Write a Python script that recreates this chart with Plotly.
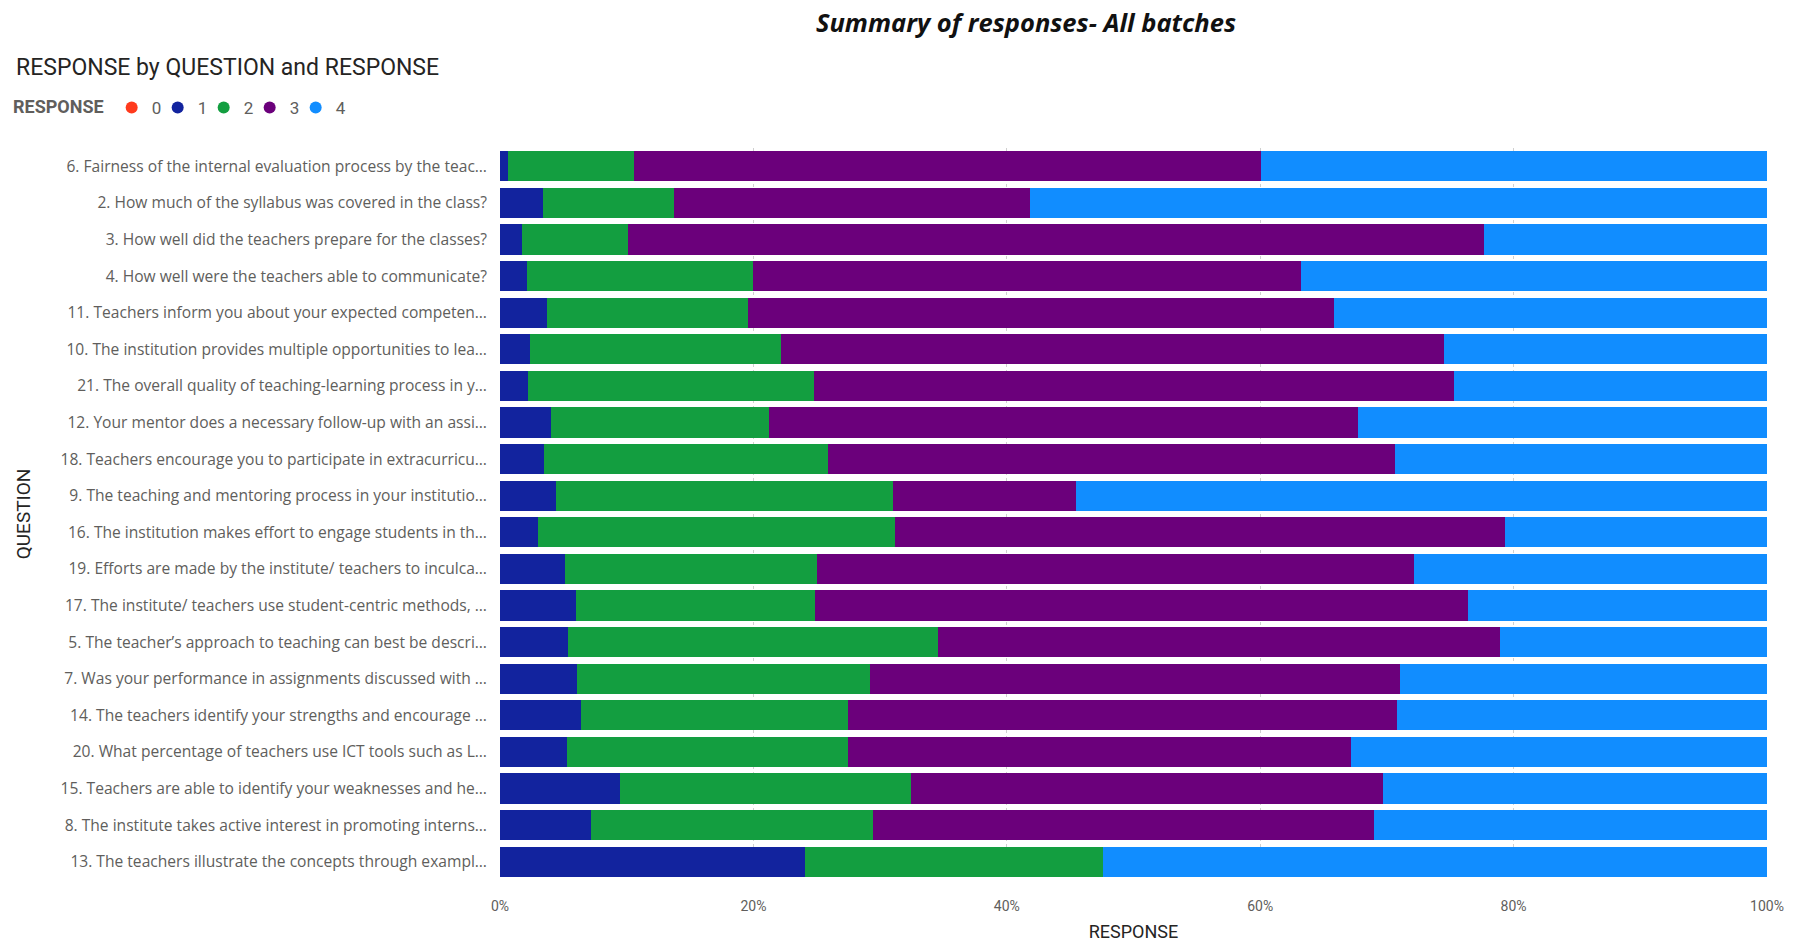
import plotly.graph_objects as go

questions = [
    "6. Fairness of the internal evaluation process by the teac…",
    "2. How much of the syllabus was covered in the class?",
    "3. How well did the teachers prepare for the classes?",
    "4. How well were the teachers able to communicate?",
    "11. Teachers inform you about your expected competen…",
    "10. The institution provides multiple opportunities to lea…",
    "21. The overall quality of teaching-learning process in y…",
    "12. Your mentor does a necessary follow-up with an assi…",
    "18. Teachers encourage you to participate in extracurricu…",
    "9. The teaching and mentoring process in your institutio…",
    "16. The institution makes effort to engage students in th…",
    "19. Efforts are made by the institute/ teachers to inculca…",
    "17. The institute/ teachers use student-centric methods, …",
    "5. The teacher’s approach to teaching can best be descri…",
    "7. Was your performance in assignments discussed with …",
    "14. The teachers identify your strengths and encourage …",
    "20. What percentage of teachers use ICT tools such as L…",
    "15. Teachers are able to identify your weaknesses and he…",
    "8. The institute takes active interest in promoting interns…",
    "13. The teachers illustrate the concepts through exampl…",
]

resp_0 = [0, 0, 0, 0, 0, 0, 0, 0, 0, 0, 0, 0, 0, 0, 0, 0, 0, 0, 0, 0]
resp_1 = [0.6, 3.4, 1.7, 2.1, 3.7, 2.4, 2.2, 4.0, 3.5, 4.4, 3.0, 5.1, 6.0, 5.4, 6.1, 6.4, 5.3, 9.5, 7.2, 24.1]
resp_2 = [10.0, 10.3, 8.4, 17.9, 15.9, 19.8, 22.6, 17.2, 22.4, 26.6, 28.2, 19.9, 18.9, 29.2, 23.1, 21.1, 22.2, 22.9, 22.2, 23.5]
resp_3 = [49.5, 28.1, 67.6, 43.2, 46.2, 52.3, 50.5, 46.5, 44.7, 14.5, 48.1, 47.1, 51.5, 44.3, 41.8, 43.3, 39.7, 37.3, 39.6, 0]
resp_4 = [39.9, 58.2, 22.3, 36.8, 34.2, 25.5, 24.7, 32.3, 29.4, 54.5, 20.7, 27.9, 23.6, 21.1, 29.0, 29.2, 32.8, 30.3, 31.0, 52.4]

series_names = ["0", "1", "2", "3", "4"]
series_vals = [resp_0, resp_1, resp_2, resp_3, resp_4]
colors = ["#FF3A1D", "#12239E", "#139E40", "#6B007B", "#118DFF"]

x_ticks = [0, 20, 40, 60, 80, 100]
x_tick_labels = ["0%", "20%", "40%", "60%", "80%", "100%"]

W, H = 1800, 942
L, R, T, B = 500, 33, 148, 62
plot_w = W - L - R
plot_h = H - T - B


def px_x(px):
    return (px - L) / plot_w


def px_y(py):
    return (H - B - py) / plot_h


fig = go.Figure()
for name, vals, col in zip(series_names, series_vals, colors):
    fig.add_trace(go.Bar(
        x=vals, y=questions, orientation="h", name=name,
        marker=dict(color=col, line=dict(width=0)),
        showlegend=False,
    ))
for i, (name, col) in enumerate(zip(series_names, colors)):
    fig.add_trace(go.Scatter(
        x=[None], y=[None], mode="markers", name=name,
        marker=dict(color=col, size=12, symbol="circle"),
        showlegend=True,
        legendwidth=1 if i < len(series_names) - 1 else None,
    ))

fig.update_layout(
    width=W, height=H,
    barmode="stack", barnorm="percent", bargap=0.17,
    plot_bgcolor="white", paper_bgcolor="white",
    margin=dict(l=L, r=R, t=T, b=B, autoexpand=False),
    title=dict(
        text="Summary of responses- All batches",
        x=1026 / W, xanchor="center", xref="container",
        y=1 - 23 / H, yanchor="middle", yref="container",
        font=dict(family="Open Sans", size=25.5, color="#111111",
                  weight="bold", style="italic"),
    ),
    legend=dict(
        orientation="h", x=11 / W, xanchor="left", y=1 - 108 / H, yanchor="middle",
        xref="container", yref="container", bgcolor="rgba(0,0,0,0)",
        traceorder="normal",
        title=dict(text="<b>RESPONSE</b>", side="left",
                   font=dict(family="Roboto", size=18, color="#605E5C")),
        font=dict(family="Roboto", size=17, color="#605E5C"),
        itemwidth=30,
    ),
    annotations=[
        dict(text="RESPONSE by QUESTION and RESPONSE", x=px_x(14), y=px_y(67),
             xref="paper", yref="paper", xanchor="left", yanchor="middle",
             showarrow=False, font=dict(family="Roboto", size=23, color="#252423")),
    ],
)

fig.update_xaxes(
    range=[0, 100], tickmode="array", tickvals=x_ticks, ticktext=x_tick_labels,
    showgrid=True, gridcolor="#D0D0D0", griddash="dot", gridwidth=1,
    zeroline=False, showline=False, ticklabelstandoff=16,
    tickfont=dict(family="Roboto", size=14, color="#605E5C"),
    title=dict(text="RESPONSE", font=dict(family="Roboto", size=18, color="#252423"), standoff=13),
)
fig.update_yaxes(
    autorange="reversed", showgrid=False, showline=False,
    ticklabelstandoff=12,
    tickfont=dict(family="Open Sans", size=15.6, color="#605E5C"),
    title=dict(text="QUESTION", font=dict(family="Roboto", size=19, color="#252423"), standoff=24),
)

# remove the browser's default 8px page margin so the figure fills the window exactly
fig.write_html("out.html", config={"displayModeBar": False},
               post_script="document.body.style.margin='0';")
